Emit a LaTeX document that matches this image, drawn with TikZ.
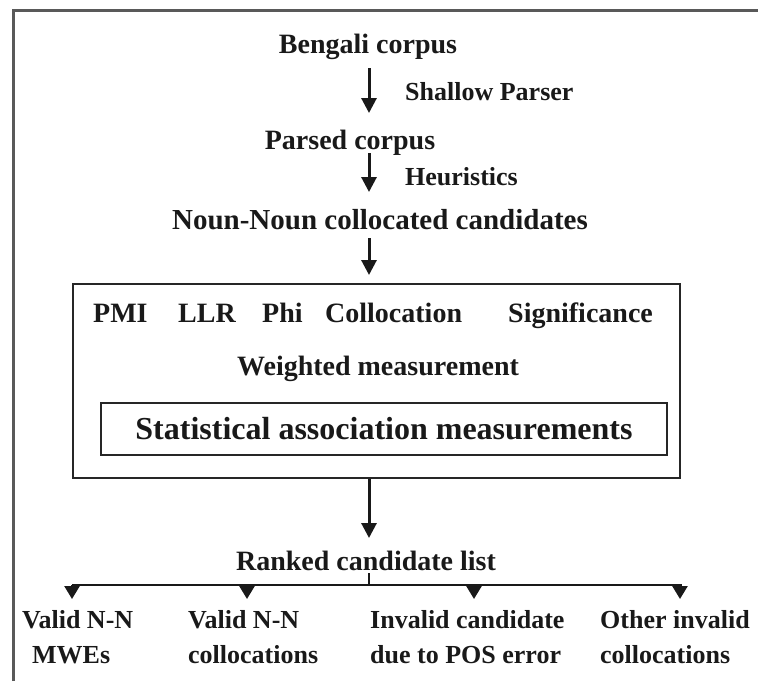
\documentclass[tikz,border=0pt]{standalone}
\usepackage{fontspec}
\setmainfont{Liberation Serif}
\usetikzlibrary{arrows.meta,calc}

\begin{document}
\begin{tikzpicture}[x=1pt,y=-1pt,
  lbl/.style={inner sep=0pt, anchor=base, text=black!90,
    font=\bfseries\fontsize{#1}{#1}\selectfont},
  lbl/.default=28,
  flow/.style={line width=3pt, draw=black!90,
    -{Triangle[width=15pt,length=15pt]}},
  drop/.style={line width=2.5pt, draw=black!90,
    -{Triangle[width=15pt,length=13pt]}},
  bar/.style={line width=2.5pt, draw=black!90},
  box/.style={draw=black!85, line width=2pt, inner sep=0pt},
  frame/.style={draw=black!65, line width=3pt}
]
\useasboundingbox (0,0) rectangle (758,681);

% page frame (top and left edges)
\draw[frame] (13,681) -- (13,10.5) -- (758,10.5);

% vertical spine of the pipeline
\coordinate (spine) at (369,0);

% pipeline stages
\node[lbl=28] (bengali) at (368,53) {Bengali corpus};
\node[lbl=26, anchor=base west] (shallow) at (405,100) {Shallow Parser};
\node[lbl=28] (parsed) at (350,149) {Parsed corpus};
\node[lbl=26, anchor=base west] (heur) at (405,185) {Heuristics};
\node[lbl=29] (noun) at (380,229) {Noun-Noun collocated candidates};

% association measures block
\node[box, minimum width=607pt, minimum height=194pt] (measures) at (376.5,381) {};
\node[lbl=28, anchor=base west] (pmi) at (93,322) {PMI};
\node[lbl=28, anchor=base west] (llr) at (178,322) {LLR};
\node[lbl=28, anchor=base west] (phi) at (262,322) {Phi};
\node[lbl=28, anchor=base west] (coll) at (325,322) {Collocation};
\node[lbl=28, anchor=base west] (sig) at (508,322) {Significance};
\node[lbl=28] (weighted) at (378,375) {Weighted measurement};
\node[box, minimum width=566pt, minimum height=52pt,
      font=\bfseries\fontsize{32}{32}\selectfont, text=black!90] (stat) at (384,429)
      {Statistical association measurements};

\node[lbl=28] (ranked) at (366,570) {Ranked candidate list};

% final categories
\node[lbl=26, anchor=base west] (c1a) at (22,628) {Valid N-N};
\node[lbl=26, anchor=base west] (c1b) at (32,663) {MWEs};
\node[lbl=26, anchor=base west] (c2a) at (188,628) {Valid N-N};
\node[lbl=26, anchor=base west] (c2b) at (188,663) {collocations};
\node[lbl=26, anchor=base west] (c3a) at (370,628) {Invalid candidate};
\node[lbl=26, anchor=base west] (c3b) at (370,663) {due to POS error};
\node[lbl=26, anchor=base west] (c4a) at (600,628) {Other invalid};
\node[lbl=26, anchor=base west] (c4b) at (600,663) {collocations};

% flow arrows (yshift is in page direction: negative moves down)
\draw[flow] ([yshift=-15pt]bengali.base -| spine) -- ([yshift=36pt]parsed.base -| spine);
\draw[flow] ([yshift=-4pt]parsed.base -| spine) -- ([yshift=37pt]noun.base -| spine);
\draw[flow] ([yshift=-9pt]noun.base -| spine) -- ([yshift=8pt]measures.north -| spine);
\draw[flow] (measures.south -| spine) -- ([yshift=32pt]ranked.base -| spine);

% branching to the categories
\coordinate (barL) at (72,585);
\coordinate (barR) at (682,585);
\coordinate (t1) at (72,599);
\coordinate (t2) at (247,599);
\coordinate (t3) at (474,599);
\coordinate (t4) at (680,599);
\draw[bar] ([yshift=-3pt]ranked.base -| spine) -- (spine |- barL);
\draw[bar] (barL) -- (barR);
\foreach \t in {t1,t2,t3,t4}
  \draw[drop] (\t |- barL) -- (\t);
\end{tikzpicture}
\end{document}
